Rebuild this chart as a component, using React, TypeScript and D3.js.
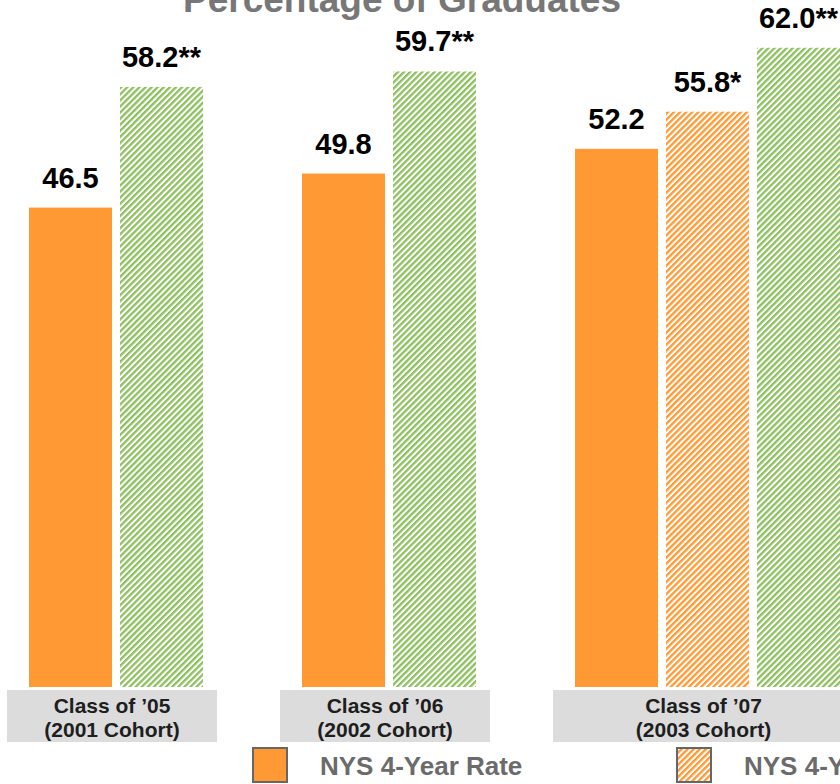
import React from "react";
import * as d3 from "d3";

const classLabels = ["Class of \u201905", "Class of \u201906", "Class of \u201907"];
const cohortLabels = ["(2001 Cohort)", "(2002 Cohort)", "(2003 Cohort)"];
const fourYearRate = [46.5, 49.8, 52.2];
const fourYearAugust: (number | null)[] = [null, null, 55.8];
const fiveYearRate = [58.2, 59.7, 62.0];
const seriesNames = ["NYS 4-Year Rate", "NYS 4-Year Rate through August", "NYS 5-Year Rate"];
const seriesSuffix = ["", "*", "**"];
const title = "Percentage of Graduates";

const W = 840;
const H = 784;
const FONT = "'Liberation Sans', Arial, Helvetica, sans-serif";
const ORANGE = "#ff9933";
const GREEN = "#8dc05e";

export default function App() {
  const series = [fourYearRate, fourYearAugust, fiveYearRate];
  const fills = [ORANGE, "url(#hatchOrange)", "url(#hatchGreen)"];

  type Bar = { g: number; s: number; v: number; slot: number };
  const bars: Bar[] = [];
  const groups: { start: number; n: number }[] = [];
  let slot = 0;
  classLabels.forEach((_, g) => {
    const start = slot;
    let n = 0;
    series.forEach((arr, s) => {
      const v = arr[g];
      if (v !== null && v !== undefined) {
        bars.push({ g, s, v, slot });
        slot++;
        n++;
      }
    });
    groups.push({ start, n });
    slot++;
  });
  const totalSlots = slot - 1;

  const x = d3
    .scaleBand<number>()
    .domain(d3.range(totalSlots))
    .range([29, 840])
    .paddingInner(0.088)
    .paddingOuter(0);
  const y = d3.scaleLinear().domain([0, 100]).range([687, 687 - 1031]);

  return (
    <svg
      width={W}
      height={H}
      style={{ position: "absolute", left: 0, top: 0, background: "#fff" }}
      fontFamily={FONT}
    >
      <defs>
        <pattern
          id="hatchGreen"
          width={4.3}
          height={4.3}
          patternUnits="userSpaceOnUse"
          patternTransform="rotate(45)"
        >
          <rect width={4.3} height={4.3} fill="#ffffff" />
          <rect width={2.3} height={4.3} fill={GREEN} />
        </pattern>
        <pattern
          id="hatchOrange"
          width={4.3}
          height={4.3}
          patternUnits="userSpaceOnUse"
          patternTransform="rotate(45)"
        >
          <rect width={4.3} height={4.3} fill="#ffffff" />
          <rect width={2.3} height={4.3} fill={ORANGE} />
        </pattern>
      </defs>

      <text
        x={402}
        y={12}
        textAnchor="middle"
        fontSize={37}
        fontWeight="bold"
        fill="#777777"
      >
        {title}
      </text>

      {bars.map((b, i) => {
        const bx = x(b.slot)!;
        const bw = x.bandwidth();
        const top = y(b.v);
        return (
          <g key={i}>
            <rect x={bx} y={top} width={bw} height={y(0) - top} fill={fills[b.s]} />
            <text
              x={bx + bw / 2}
              y={top - 20}
              textAnchor="middle"
              fontSize={29}
              fontWeight="bold"
              fill="#000"
            >
              {b.v.toFixed(1) + seriesSuffix[b.s]}
            </text>
          </g>
        );
      })}

      {groups.map((gr, g) => {
        const gx = x(gr.start)!;
        const gEnd = x(gr.start + gr.n - 1)! + x.bandwidth();
        const bx = gx - 22;
        const bw = gEnd - gx + 36;
        return (
          <g key={g}>
            <rect x={bx} y={690} width={bw} height={52} fill="#dcdcdc" />
            <text
              x={bx + bw / 2}
              y={713}
              textAnchor="middle"
              fontSize={21}
              fontWeight="bold"
              fill="#1e1e1e"
            >
              {classLabels[g]}
            </text>
            <text
              x={bx + bw / 2}
              y={737}
              textAnchor="middle"
              fontSize={21}
              fontWeight="bold"
              fill="#1e1e1e"
            >
              {cohortLabels[g]}
            </text>
          </g>
        );
      })}

      {seriesNames.slice(0, 2).map((name, i) => {
        const lx = 253 + i * 424;
        return (
          <g key={name}>
            <rect
              x={lx}
              y={748}
              width={34}
              height={34}
              fill={fills[i]}
              stroke="#666"
              strokeWidth={2}
            />
            <text
              x={lx + 67}
              y={775}
              fontSize={26}
              fontWeight="bold"
              fill="#6b6b6b"
            >
              {name}
            </text>
          </g>
        );
      })}
    </svg>
  );
}
